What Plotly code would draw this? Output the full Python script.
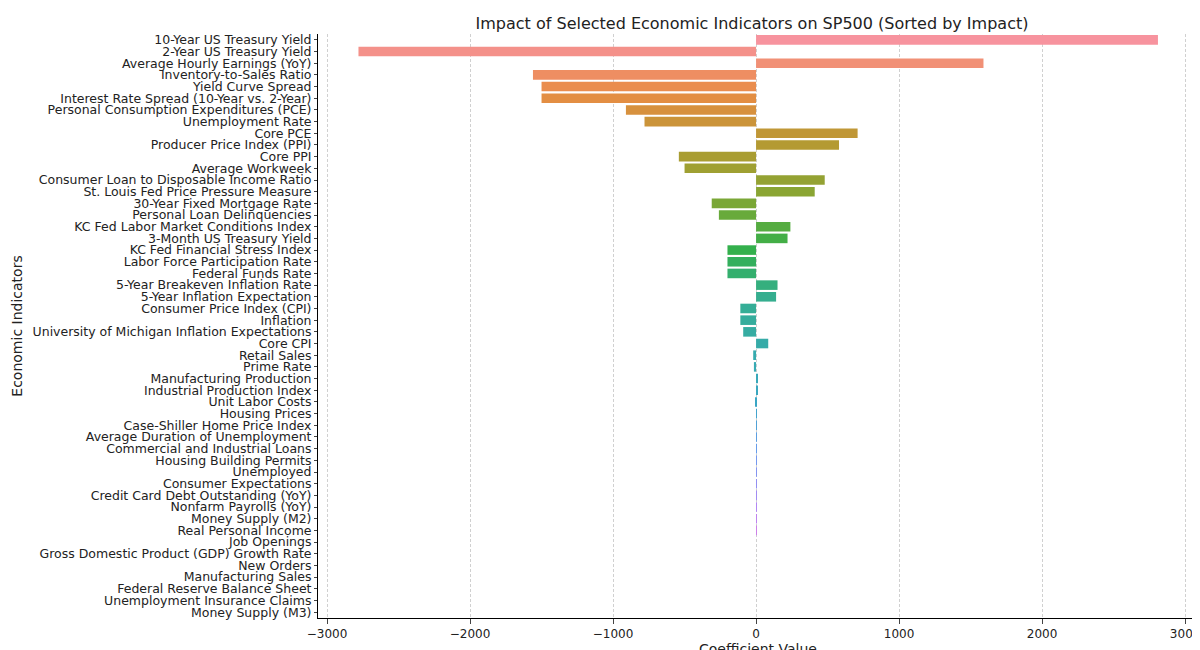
import plotly.graph_objects as go
from plotly.colors import sample_colorscale

indicators = [
    "10-Year US Treasury Yield", "2-Year US Treasury Yield", "Average Hourly Earnings (YoY)",
    "Inventory-to-Sales Ratio", "Yield Curve Spread", "Interest Rate Spread (10-Year vs. 2-Year)",
    "Personal Consumption Expenditures (PCE)", "Unemployment Rate", "Core PCE",
    "Producer Price Index (PPI)", "Core PPI", "Average Workweek",
    "Consumer Loan to Disposable Income Ratio", "St. Louis Fed Price Pressure Measure",
    "30-Year Fixed Mortgage Rate", "Personal Loan Delinquencies",
    "KC Fed Labor Market Conditions Index", "3-Month US Treasury Yield",
    "KC Fed Financial Stress Index", "Labor Force Participation Rate", "Federal Funds Rate",
    "5-Year Breakeven Inflation Rate", "5-Year Inflation Expectation",
    "Consumer Price Index (CPI)", "Inflation", "University of Michigan Inflation Expectations",
    "Core CPI", "Retail Sales", "Prime Rate", "Manufacturing Production",
    "Industrial Production Index", "Unit Labor Costs", "Housing Prices",
    "Case-Shiller Home Price Index", "Average Duration of Unemployment",
    "Commercial and Industrial Loans", "Housing Building Permits", "Unemployed",
    "Consumer Expectations", "Credit Card Debt Outstanding (YoY)", "Nonfarm Payrolls (YoY)",
    "Money Supply (M2)", "Real Personal Income", "Job Openings",
    "Gross Domestic Product (GDP) Growth Rate", "New Orders", "Manufacturing Sales",
    "Federal Reserve Balance Sheet", "Unemployment Insurance Claims", "Money Supply (M3)",
]
coefficients = [
    2810, -2780, 1590, -1560, -1500, -1500, -910, -780, 710, 580, -540, -500, 480, 410,
    -310, -260, 240, 220, -200, -200, -200, 150, 140, -110, -110, -90, 85, -20, -15, 12,
    10, -6, 5, 4, 3, 2, 0.5, 0.3, 0.2, 0.1, 0.1, 0.05, 0.05, 0.03, 0.02, 0.01, 0.01,
    0.01, 0.005, 0.002,
]

anchors = ["#f7939e", "#e98c45", "#b59a32", "#86a633", "#34b04a", "#35ae93",
           "#36abac", "#3aa6c6", "#6f9bf0", "#b387f4", "#ef79da", "#f68db5"]
scale = [[i / (len(anchors) - 1), c] for i, c in enumerate(anchors)]
colors = sample_colorscale(scale, [i / (len(indicators) - 1) for i in range(len(indicators))])

fig = go.Figure(go.Bar(
    x=coefficients, y=indicators, orientation="h",
    marker=dict(color=colors, line=dict(width=0)),
))
fig.update_layout(
    width=1200, height=650, plot_bgcolor="white", paper_bgcolor="white",
    font=dict(family="DejaVu Sans", size=12, color="#222"),
    title=dict(text="Impact of Selected Economic Indicators on SP500 (Sorted by Impact)",
               x=0.62, xanchor="center", y=0.985, font=dict(size=16)),
    margin=dict(l=310, r=10, t=26, b=40),
    bargap=0.18, showlegend=False,
)
fig.update_xaxes(range=[-3063, 3090], tickvals=[-3000, -2000, -1000, 0, 1000, 2000, 3000],
                 showgrid=True, gridcolor="#d0d0d0", griddash="3px,2px", zeroline=False,
                 showline=True, linecolor="black", ticks="outside", automargin=False,
                 title=dict(text="Coefficient Value", standoff=2))
fig.update_yaxes(autorange="reversed", showgrid=False, showline=True, linecolor="black",
                 ticks="outside", ticklen=3, tickmode="linear", dtick=1, automargin=False,
                 tickfont=dict(size=12.5),
                 title=dict(text="Economic Indicators", standoff=6))
fig.write_html("out.html")
